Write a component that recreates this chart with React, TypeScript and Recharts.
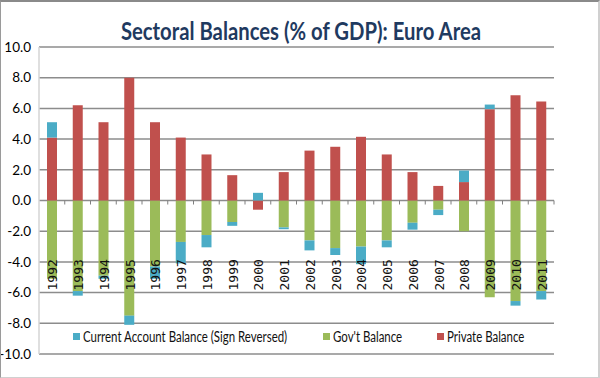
import { Bar, BarChart, CartesianGrid, XAxis, YAxis } from "recharts";

const years = [
  "1992", "1993", "1994", "1995", "1996", "1997", "1998", "1999", "2000", "2001",
  "2002", "2003", "2004", "2005", "2006", "2007", "2008", "2009", "2010", "2011",
];
const privateBalance = [4.1, 6.2, 5.1, 8.0, 5.1, 4.1, 3.0, 1.65, -0.6, 1.85, 3.25, 3.5, 4.15, 3.0, 1.85, 0.95, 1.2, 5.95, 6.85, 6.45];
const govBalance = [-5.1, -5.9, -4.9, -7.5, -4.3, -2.7, -2.25, -1.4, 0, -1.75, -2.6, -3.1, -3.0, -2.6, -1.45, -0.6, -2.0, -6.3, -6.55, -5.9];
const currentAccountRev = [1.0, -0.3, -0.2, -0.6, -0.8, -1.4, -0.8, -0.25, 0.5, -0.12, -0.65, -0.45, -1.15, -0.45, -0.45, -0.35, 0.75, 0.3, -0.3, -0.55];
const yTicks = [-10, -8, -6, -4, -2, 0, 2, 4, 6, 8, 10];

const data = years.map((year, i) => ({
  year,
  gov: govBalance[i],
  priv: privateBalance[i],
  ca: currentAccountRev[i],
}));

const W = 600;
const H = 378;
const TOP = 47;
const BOTTOM = 20;
const X_AXIS_H = 4;
const LEFT = 5;
const Y_AXIS_W = 34;
const RIGHT = 46;
const PLOT_H = H - TOP - BOTTOM - X_AXIS_H;
const PLOT_W = W - LEFT - Y_AXIS_W - RIGHT;
const ZERO_Y = TOP + (PLOT_H * yTicks[yTicks.length - 1]) / (yTicks[yTicks.length - 1] - yTicks[0]);
const STEP = PLOT_W / years.length;

const FONT = 'Lato, "Open Sans", sans-serif';

const legendItems = [
  { name: "Current Account Balance (Sign Reversed)", color: "#4BACC6", x: 72 },
  { name: "Gov't Balance", color: "#9BBB59", x: 322 },
  { name: "Private Balance", color: "#C0504D", x: 436 },
];

function YearTick(props: any) {
  const { x, payload } = props;
  const right = x + STEP / 2;
  const ly = ZERO_Y + 90;
  return (
    <g>
      <line x1={right} x2={right} y1={ZERO_Y} y2={ZERO_Y + 4} stroke="#7f7f7f" strokeWidth={1} />
      <text
        x={x + 1}
        y={ly}
        transform={`rotate(-90 ${x + 1} ${ly})`}
        textAnchor="start"
        dominantBaseline="central"
        fontFamily='"DejaVu Sans Mono", "Liberation Mono", monospace'
        fontSize={13}
        fill="#111"
      >
        {payload.value}
      </text>
    </g>
  );
}

export default function App() {
  return (
    <div
      style={{
        position: "absolute",
        left: 0,
        top: 0,
        width: W,
        height: H,
        boxSizing: "border-box",
        background: "#fff",
        borderTop: "2px solid #8a8a8a",
        borderLeft: "1px solid #9a9a9a",
        borderRight: "2px solid #d0d0d0",
        borderBottom: "1px solid #d0d0d0",
        fontFamily: FONT,
        overflow: "hidden",
      }}
    >
      <div
        style={{
          position: "absolute",
          left: 0,
          top: 14,
          width: W,
          textAlign: "center",
          fontSize: 24,
          fontWeight: 700,
          color: "#1F3A60",
          fontFamily: FONT,
          transform: "scaleX(0.845)",
        }}
      >
        Sectoral Balances (% of GDP): Euro Area
      </div>
      <div style={{ position: "absolute", left: -1, top: -2 }}>
        <BarChart
          width={W}
          height={H}
          data={data}
          stackOffset="sign"
          barSize={10}
          margin={{ top: TOP, right: RIGHT, bottom: BOTTOM, left: LEFT }}
        >
          <CartesianGrid vertical={false} stroke="#8c8c8c" strokeWidth={1.5} />
          <YAxis
            width={Y_AXIS_W}
            domain={[yTicks[0], yTicks[yTicks.length - 1]]}
            ticks={yTicks}
            tickFormatter={(v: number) => v.toFixed(1)}
            axisLine={{ stroke: "#d4d4d4", strokeWidth: 1.5 }}
            tickLine={false}
            tick={{ fill: "#000", fontSize: 13.5, fontFamily: FONT }}
          />
          <Bar dataKey="gov" name="Gov't Balance" stackId="a" fill="#9BBB59" isAnimationActive={false} />
          <Bar dataKey="priv" name="Private Balance" stackId="a" fill="#C0504D" isAnimationActive={false} />
          <Bar dataKey="ca" name="Current Account Balance (Sign Reversed)" stackId="a" fill="#4BACC6" isAnimationActive={false} />
          <XAxis
            dataKey="year"
            height={X_AXIS_H}
            axisLine={false}
            tickLine={false}
            interval={0}
            tick={YearTick}
          />
        </BarChart>
      </div>
      {legendItems.map((item) => (
        <div
          key={item.name}
          style={{
            position: "absolute",
            left: item.x,
            top: 326,
            display: "flex",
            alignItems: "center",
            fontSize: 14.5,
            color: "#111",
            whiteSpace: "nowrap",
          }}
        >
          <span style={{ width: 7, height: 7, background: item.color, marginRight: 3 }} />
          <span style={{ display: "inline-block", transform: "scaleX(0.79)", transformOrigin: "left center" }}>
            {item.name}
          </span>
        </div>
      ))}
    </div>
  );
}
